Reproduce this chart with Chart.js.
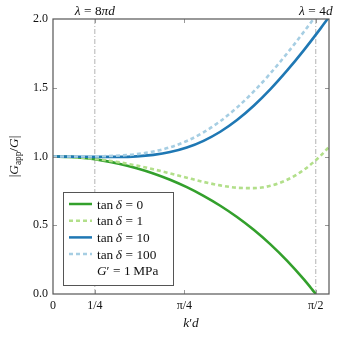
<!DOCTYPE html>
<html>
<head>
<meta charset="utf-8">
<script src="https://cdn.jsdelivr.net/npm/chart.js@4/dist/chart.umd.min.js"></script>
<style>
    html, body { margin: 0; padding: 0; background: #fff; }
</style>
</head>
<body>
<canvas id="GraficoGapp" width="344" height="338"></canvas>
<script>
// k'd grid used by the three lossy curves
var kd = [0, 0.1, 0.2, 0.3, 0.4, 0.5, 0.6, 0.7, 0.8, 0.9, 1.0, 1.1, 1.2, 1.3, 1.4, 1.5, 1.6, 1.65];
var tan1 = [1, 0.997, 0.989, 0.975, 0.957, 0.934, 0.907, 0.877, 0.846, 0.815, 0.790, 0.773, 0.770, 0.787, 0.831, 0.903, 1.006, 1.069];
var tan10 = [1, 0.999, 0.998, 0.997, 0.997, 1.001, 1.012, 1.032, 1.065, 1.114, 1.180, 1.265, 1.369, 1.490, 1.626, 1.774, 1.932, 2.014];
var tan100 = [1, 1.000, 1.000, 1.002, 1.007, 1.017, 1.036, 1.067, 1.113, 1.176, 1.257, 1.356, 1.473, 1.605, 1.751, 1.907, 2.070, 2.153];

// elastic curve stops at pi/2
var kdElastico = [0, 0.1, 0.2, 0.3, 0.4, 0.5, 0.6, 0.7, 0.8, 0.9, 1.0, 1.1, 1.2, 1.3, 1.4, 1.5, 1.55, 1.5708];
var tan0 = [1, 0.997, 0.987, 0.970, 0.946, 0.915, 0.877, 0.831, 0.777, 0.714, 0.642, 0.560, 0.467, 0.361, 0.241, 0.106, 0.032, 0];

var xTicks = [0, 0.25, 0.7854, 1.5708];
var xTickLabels = ['0', '1/4', 'π/4', 'π/2'];
var yTicks = [0.5, 1.0, 1.5];

// vertical dash-dot markers and their labels (numbers = extra gap in px)
var marcasX = [0.25, 1.5708];
var marcasRotulo = [
    [['λ', true], [3.5], ['=', false], [3.5], ['8', false], ['πd', true]],
    [['λ', true], [3.5], ['=', false], [3.5], ['4', false], ['d', true]]
];

var legendaTextos = [
    [['tan', false], [2.5], ['δ', true], [3.5], ['=', false], [3.5], ['0', false]],
    [['tan', false], [2.5], ['δ', true], [3.5], ['=', false], [3.5], ['1', false]],
    [['tan', false], [2.5], ['δ', true], [3.5], ['=', false], [3.5], ['10', false]],
    [['tan', false], [2.5], ['δ', true], [3.5], ['=', false], [3.5], ['100', false]],
    [['G', true], ['′', false], [3.5], ['=', false], [3.5], ['1', false], [2.5], ['MPa', false]]
];

var serif = '"Liberation Serif", "DejaVu Serif", serif';

function Pontos(xs, ys) {
    var pts = [];
    var i = 0;
    while (i < xs.length) {
        pts.push({ x: xs[i], y: ys[i] });
        i++;
    }
    return pts;
}

function LarguraParte(ctx, p, tamanho) {
    if (typeof p[0] === 'number') return p[0];
    ctx.font = (p[1] ? 'italic ' : '') + (tamanho * (p[2] || 1)) + 'px ' + serif;
    return ctx.measureText(p[0]).width;
}

function TextoMisto(ctx, partes, x, y, tamanho, alinhar) {
    var largura = 0;
    partes.forEach(function (p) {
        largura += LarguraParte(ctx, p, tamanho);
    });
    var cx = alinhar === 'left' ? x : x - largura / 2;
    ctx.textAlign = 'left';
    ctx.textBaseline = 'alphabetic';
    ctx.fillStyle = '#111';
    partes.forEach(function (p) {
        var w = LarguraParte(ctx, p, tamanho);
        if (typeof p[0] !== 'number') {
            ctx.fillText(p[0], cx, y + (p[3] || 0));
        }
        cx += w;
    });
}

var estilos = [
    { label: 'tan0', cor: '#33a02c', dash: [] },
    { label: 'tan1', cor: '#b2df8a', dash: [4, 3] },
    { label: 'tan10', cor: '#1f78b4', dash: [] },
    { label: 'tan100', cor: '#a6cee3', dash: [4, 3] }
];

var moldura = {
    id: 'moldura',
    afterDraw: function (chart) {
        var ctx = chart.ctx;
        var a = chart.chartArea;
        var sx = chart.scales.x;
        var sy = chart.scales.y;
        ctx.save();

        // inward ticks on all four sides
        ctx.strokeStyle = '#999';
        ctx.lineWidth = 1;
        ctx.beginPath();
        xTicks.slice(1).forEach(function (v) {
            var px = Math.round(sx.getPixelForValue(v)) + 0.5;
            ctx.moveTo(px, a.bottom); ctx.lineTo(px, a.bottom - 4);
            ctx.moveTo(px, a.top); ctx.lineTo(px, a.top + 4);
        });
        yTicks.forEach(function (v) {
            var py = Math.round(sy.getPixelForValue(v)) + 0.5;
            ctx.moveTo(a.left, py); ctx.lineTo(a.left + 4, py);
            ctx.moveTo(a.right, py); ctx.lineTo(a.right - 4, py);
        });
        ctx.stroke();

        // frame
        ctx.strokeStyle = '#555';
        ctx.lineWidth = 1.2;
        ctx.strokeRect(a.left, a.top, a.right - a.left, a.bottom - a.top);

        // labels above the markers
        marcasX.forEach(function (v, i) {
            TextoMisto(ctx, marcasRotulo[i], sx.getPixelForValue(v), 14.5, 13.3);
        });

        // axis titles
        TextoMisto(ctx, [['k', true], ['′', false], ['d', true]], (a.left + a.right) / 2, 327, 13.3);
        ctx.save();
        ctx.translate(18, (a.top + a.bottom) / 2);
        ctx.rotate(-Math.PI / 2);
        TextoMisto(ctx, [['|', false], ['G', true], ['app', false, 0.7, 2.5], ['/', false], ['G', true], ['|', false]], 0, 0, 13.3);
        ctx.restore();

        // legend box
        ctx.fillStyle = '#fff';
        ctx.fillRect(63, 192, 110, 93);
        ctx.strokeStyle = '#555';
        ctx.lineWidth = 1;
        ctx.strokeRect(63.5, 192.5, 110, 93);
        legendaTextos.forEach(function (t, i) {
            var yc = 204 + i * 16.7;
            if (i < estilos.length) {
                ctx.strokeStyle = estilos[i].cor;
                ctx.lineWidth = 2.5;
                ctx.setLineDash(estilos[i].dash);
                ctx.beginPath();
                ctx.moveTo(69, yc);
                ctx.lineTo(92, yc);
                ctx.stroke();
                ctx.setLineDash([]);
            }
            TextoMisto(ctx, t, 97, yc + 4.5, 13.3, 'left');
        });
        ctx.restore();
    }
};

var conjuntos = [];
var series = [Pontos(kdElastico, tan0), Pontos(kd, tan1), Pontos(kd, tan10), Pontos(kd, tan100)];
var ordens = [3, 2, 1, 0];
estilos.forEach(function (e, i) {
    conjuntos.push({
        label: e.label,
        data: series[i],
        borderColor: e.cor,
        borderWidth: 2.6,
        borderDash: e.dash,
        borderCapStyle: 'butt',
        cubicInterpolationMode: 'monotone',
        pointRadius: 0,
        fill: false,
        clip: 0,
        order: ordens[i]
    });
});
marcasX.forEach(function (v) {
    conjuntos.push({
        label: 'marca',
        data: [{ x: v, y: 0 }, { x: v, y: 2 }],
        borderColor: '#aaa',
        borderWidth: 0.9,
        borderDash: [5, 2, 1, 2],
        pointRadius: 0,
        fill: false,
        order: 5
    });
});

var ctx = document.getElementById('GraficoGapp').getContext('2d');
new Chart(ctx, {
    type: 'line',
    data: { datasets: conjuntos },
    options: {
        responsive: false,
        animation: false,
        devicePixelRatio: 1,
        layout: { padding: { top: 19, right: 15, left: 0, bottom: 0 } },
        plugins: { legend: { display: false }, tooltip: { enabled: false } },
        scales: {
            x: {
                type: 'linear',
                min: 0,
                max: 1.65,
                grid: { display: false, drawTicks: false },
                border: { display: false },
                afterBuildTicks: function (s) {
                    s.ticks = xTicks.map(function (v) { return { value: v }; });
                },
                afterFit: function (s) { s.height = 44; },
                ticks: {
                    autoSkip: false,
                    maxRotation: 0,
                    padding: 5,
                    color: '#111',
                    font: { family: serif, size: 12 },
                    callback: function (v, i) { return xTickLabels[i]; }
                }
            },
            y: {
                min: 0,
                max: 2,
                grid: { display: false, drawTicks: false },
                border: { display: false },
                afterFit: function (s) { s.width = 53; },
                ticks: {
                    stepSize: 0.5,
                    padding: 5,
                    color: '#111',
                    font: { family: serif, size: 12 },
                    callback: function (v) { return v.toFixed(1); }
                }
            }
        }
    },
    plugins: [moldura]
});
</script>
</body>
</html>
